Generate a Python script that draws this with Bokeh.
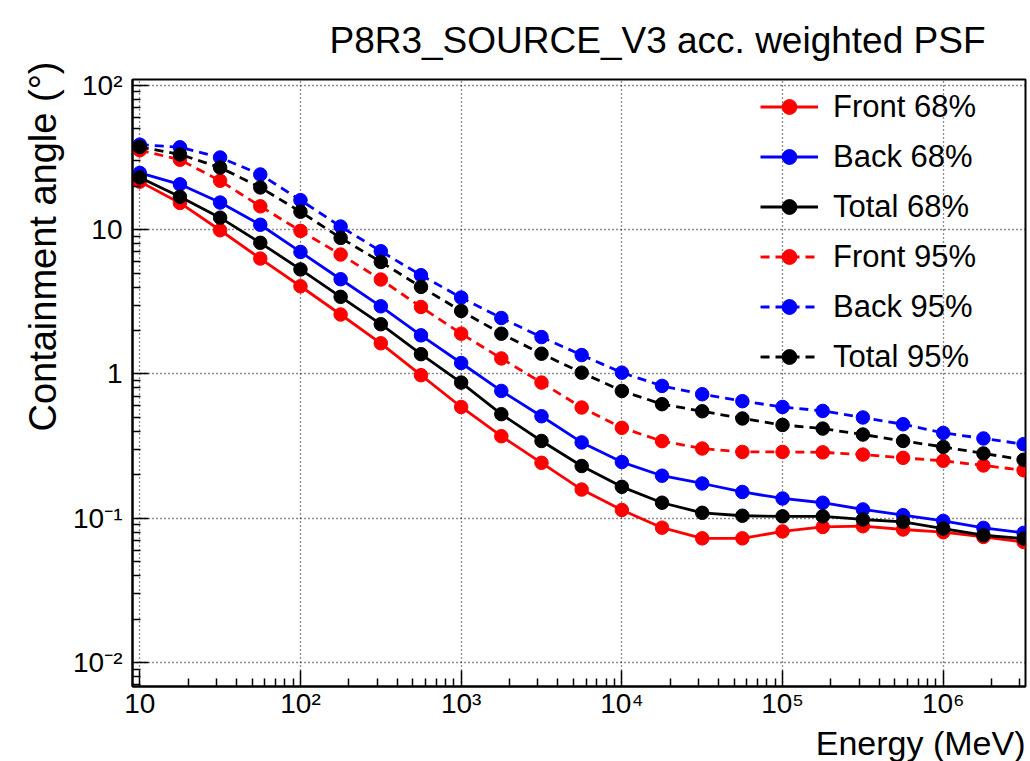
from bokeh.plotting import figure
from bokeh.models import FixedTicker, Legend, LegendItem, Range1d, Title
from bokeh.embed import file_html
from bokeh.resources import INLINE

# Energies (MeV)
energy = [10, 17.78, 31.62, 56.23, 100, 177.8, 316.2, 562.3, 1000, 1778, 3162, 5623,
          10000, 17783, 31623, 56234, 100000, 177828, 316228, 562341, 1000000, 1778279, 3162278]

front68 = [21.5, 15.3, 9.9, 6.3, 4.05, 2.58, 1.63, 0.98, 0.59, 0.37, 0.242, 0.158,
           0.114, 0.086, 0.0725, 0.0725, 0.081, 0.087, 0.088, 0.0835, 0.080, 0.0742, 0.0685]
back68 = [24.7, 20.6, 15.4, 10.8, 7.0, 4.53, 2.94, 1.85, 1.19, 0.762, 0.509, 0.335,
          0.245, 0.197, 0.174, 0.152, 0.137, 0.128, 0.115, 0.105, 0.0958, 0.0857, 0.0791]
total68 = [23.0, 16.9, 12.1, 8.1, 5.3, 3.42, 2.21, 1.37, 0.871, 0.526, 0.343, 0.230,
           0.165, 0.128, 0.109, 0.104, 0.103, 0.103, 0.098, 0.0943, 0.0848, 0.0762, 0.0723]
front95 = [35.5, 30.5, 21.8, 14.5, 9.8, 6.72, 4.51, 2.91, 1.90, 1.28, 0.871, 0.585,
           0.423, 0.342, 0.304, 0.288, 0.288, 0.286, 0.276, 0.262, 0.250, 0.232, 0.215]
back95 = [38.8, 37.2, 31.6, 24.1, 16.0, 10.5, 7.08, 4.83, 3.38, 2.44, 1.80, 1.35,
          1.02, 0.826, 0.723, 0.647, 0.59, 0.554, 0.499, 0.448, 0.390, 0.357, 0.326]
total95 = [37.4, 33.2, 26.9, 19.6, 13.3, 8.76, 5.97, 4.01, 2.73, 1.90, 1.38, 1.02,
           0.762, 0.617, 0.551, 0.491, 0.443, 0.418, 0.380, 0.343, 0.312, 0.281, 0.254]

series_labels = ["Front 68%", "Back 68%", "Total 68%", "Front 95%", "Back 95%", "Total 95%"]
series_values = [front68, back68, total68, front95, back95, total95]
series_colors = ["#ff0000", "#0000ff", "#000000", "#ff0000", "#0000ff", "#000000"]
series_dashes = ["solid", "solid", "solid", "9 6", "9 6", "9 6"]

x_major = [10, 100, 1000, 10000, 100000, 1000000]
x_major_labels = {10: "10", 100: "10²", 1000: "10³", 10000: "10⁴", 100000: "10⁵", 1000000: "10⁶"}
y_major = [0.01, 0.1, 1, 10, 100]
y_major_labels = {0.01: "10⁻²", 0.1: "10⁻¹", 1: "1", 10: "10", 100: "10²"}

title_text = "P8R3_SOURCE_V3 acc. weighted PSF"
x_title = "Energy (MeV)"
y_title = "Containment angle (°)"

FONT = "Liberation Sans"

x_minor = [m * d for d in [10, 100, 1000, 10000, 100000, 1000000] for m in range(2, 10)]
y_minor = [m * d for d in [0.001, 0.01, 0.1, 1, 10] for m in range(2, 10)]

p = figure(width=1030, height=761, x_axis_type="log", y_axis_type="log",
           x_range=Range1d(9.01, 3.25e6), y_range=Range1d(0.00682, 109.7),
           output_backend="svg", toolbar_location=None,
           min_border_left=132, min_border_right=5, min_border_top=79, min_border_bottom=75)

p.title.text = title_text
p.title.align = "right"
p.title.vertical_align = "top"
p.title.text_font = FONT
p.title.text_font_size = "37px"
p.title.text_font_style = "normal"
p.title.text_color = "black"
p.title.offset = 40
p.title.standoff = 34

p.outline_line_color = "black"
p.outline_line_width = 2
p.outline_line_alpha = 1

p.xaxis.ticker = FixedTicker(ticks=x_major, minor_ticks=x_minor)
p.yaxis.ticker = FixedTicker(ticks=y_major, minor_ticks=y_minor)
p.xaxis.major_label_overrides = x_major_labels
p.yaxis.major_label_overrides = y_major_labels

for ax in (p.xaxis[0], p.yaxis[0]):
    ax.major_tick_in = 16
    ax.major_tick_out = 0
    ax.minor_tick_in = 8
    ax.minor_tick_out = 0
    ax.major_tick_line_width = 1.5
    ax.minor_tick_line_width = 1.5
    ax.axis_line_width = 2
    ax.major_tick_line_color = "black"
    ax.minor_tick_line_color = "black"
    ax.axis_line_color = "black"
    ax.major_label_text_font = FONT
    ax.major_label_text_font_size = "28px"
    ax.major_label_text_color = "black"

p.xaxis.major_label_standoff = 1
p.yaxis.major_label_standoff = 10

# Axis titles aligned at the axis end, as ROOT does
xt = Title(text=x_title, align="right", offset=0, standoff=0,
           text_font=FONT, text_font_size="34px", text_font_style="normal", text_color="black")
p.add_layout(xt, "below")
yt = Title(text=y_title, align="right", offset=-18, standoff=13,
           text_font=FONT, text_font_size="38px", text_font_style="normal", text_color="black")
p.add_layout(yt, "left")

for g in (p.xgrid[0], p.ygrid[0]):
    g.grid_line_color = "black"
    g.grid_line_dash = "1 3"
    g.grid_line_width = 1.3
    g.grid_line_alpha = 0.9

items = []
for lab, vals, col, dash in zip(series_labels, series_values, series_colors, series_dashes):
    ln = p.line(energy, vals, line_color=col, line_width=2.8, line_dash=dash)
    sc = p.scatter(energy, vals, size=13.5, fill_color=col, line_color=col)
    items.append(LegendItem(label=lab, renderers=[ln, sc]))

legend = Legend(items=items, location=(628, 311))
legend.border_line_alpha = 0
legend.background_fill_alpha = 0
legend.padding = 0
legend.margin = 0
legend.spacing = 13
legend.label_height = 37
legend.glyph_height = 37
legend.glyph_width = 58
legend.label_standoff = 15
legend.label_text_font = FONT
legend.label_text_font_size = "31px"
legend.label_text_color = "black"
p.add_layout(legend)

open("out.html", "w").write(file_html(p, INLINE))
